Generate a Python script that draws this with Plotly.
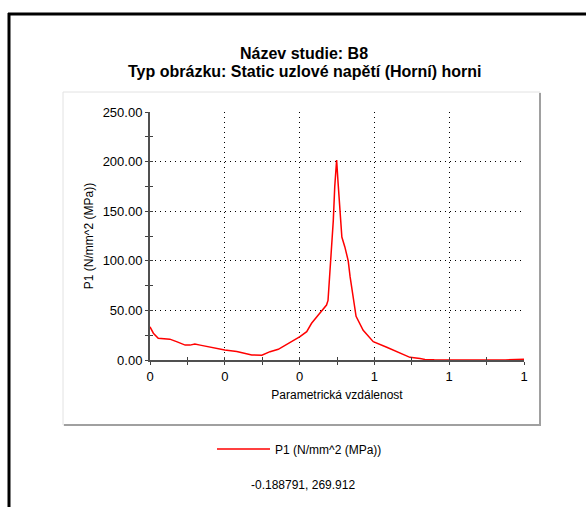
import plotly.graph_objects as go

# ---- data ----
dist = [0.000, 0.009, 0.022, 0.053, 0.071, 0.094, 0.107, 0.120, 0.134, 0.174,
        0.200, 0.232, 0.272, 0.299, 0.321, 0.343, 0.370, 0.401, 0.419, 0.432,
        0.450, 0.472, 0.476, 0.483, 0.490, 0.494, 0.499, 0.503, 0.508, 0.513,
        0.521, 0.530, 0.535, 0.544, 0.551, 0.570, 0.597, 0.633, 0.668, 0.695,
        0.722, 0.735, 0.760, 0.850, 0.950, 1.000]
p1 = [33.5, 27.0, 22.0, 21.0, 18.5, 15.0, 15.0, 16.0, 15.0, 12.0,
      10.0, 8.5, 5.0, 4.8, 8.4, 10.8, 16.8, 23.5, 28.6, 37.0,
      45.4, 55.4, 60.0, 100.0, 140.0, 175.0, 201.6, 178.0, 151.0, 124.0,
      114.0, 100.0, 84.0, 60.0, 44.0, 30.0, 18.5, 12.8, 6.7, 2.7,
      1.5, 0.6, 0.2, 0.1, 0.1, 0.8]

x_tickvals = [0, 0.2, 0.4, 0.6, 0.8, 1.0]
x_ticktext = ["0", "0", "0", "1", "1", "1"]
y_tickvals = [0, 50, 100, 150, 200, 250]
y_ticktext = ["0.00", "50.00", "100.00", "150.00", "200.00", "250.00"]

title_line1 = "Název studie: B8"
title_line2 = "Typ obrázku: Static uzlové napětí (Horní) horni"
x_title = "Parametrická vzdálenost"
y_title = "P1 (N/mm^2 (MPa))"
series_name = "P1 (N/mm^2 (MPa))"
cursor_text = "-0.188791, 269.912"

FONT = "Liberation Sans, Arial, sans-serif"
W, H = 586, 507
L, R, T, B = 150, 62, 112, 147
PW, PH = W - L - R, H - T - B


def px_x(v):
    return (v - L) / PW


def px_y(v):
    return (H - B - v) / PH


fig = go.Figure()
fig.add_trace(go.Scatter(x=dist, y=p1, mode="lines", name=series_name,
                         line=dict(color="#ff0000", width=1.5)))
# invisible trace on overlay axes (for crossing tick marks)
fig.add_trace(go.Scatter(x=dist, y=p1, mode="lines", xaxis="x2", yaxis="y2",
                         line=dict(color="rgba(0,0,0,0)", width=0),
                         showlegend=False, hoverinfo="skip"))

axis_common = dict(showline=True, linecolor="#505050", linewidth=2,
                   ticks="outside", ticklen=3, tickcolor="#404040", tickwidth=1,
                   showgrid=True, gridcolor="#000000", gridwidth=1, griddash="1px,4px",
                   zeroline=False, tickfont=dict(family=FONT, size=13, color="#000"))

fig.update_layout(
    width=W, height=H,
    margin=dict(l=L, r=R, t=T, b=B),
    paper_bgcolor="white", plot_bgcolor="white",
    showlegend=True,
    xaxis=dict(range=[0, 1], tickvals=x_tickvals, ticktext=x_ticktext,
               minor=dict(dtick=0.1, ticks="outside", ticklen=3, tickcolor="#404040", showgrid=False),
               title=dict(text=x_title, font=dict(family=FONT, size=12, color="#000"), standoff=8),
               **axis_common),
    yaxis=dict(range=[0, 250], tickvals=y_tickvals, ticktext=y_ticktext,
               minor=dict(dtick=25, ticks="outside", ticklen=3, tickcolor="#404040", showgrid=False),
               title=dict(text=y_title, font=dict(family=FONT, size=12, color="#000"), standoff=6),
               **axis_common),
    xaxis2=dict(range=[0, 1], overlaying="x", anchor="y2", side="bottom",
                tickvals=x_tickvals, showticklabels=False, ticks="inside", ticklen=3,
                tickcolor="#404040", showgrid=False, zeroline=False, showline=False,
                minor=dict(dtick=0.1, ticks="inside", ticklen=3, tickcolor="#404040")),
    yaxis2=dict(range=[0, 250], overlaying="y", anchor="x2", side="left",
                tickvals=y_tickvals, showticklabels=False, ticks="inside", ticklen=3,
                tickcolor="#404040", showgrid=False, zeroline=False, showline=False,
                minor=dict(dtick=25, ticks="inside", ticklen=3, tickcolor="#404040")),
    legend=dict(x=px_x(212), xanchor="left", y=px_y(449), yanchor="middle",
                orientation="h", bgcolor="rgba(0,0,0,0)", itemwidth=53,
                font=dict(family=FONT, size=12, color="#000")),
)

# title lines
fig.add_annotation(text="<b>" + title_line1 + "</b>", xref="paper", yref="paper",
                   x=px_x(304), y=px_y(53), xanchor="center", yanchor="middle",
                   showarrow=False, font=dict(family=FONT, size=16, color="#000"))
fig.add_annotation(text="<b>" + title_line2 + "</b>", xref="paper", yref="paper",
                   x=px_x(305), y=px_y(71), xanchor="center", yanchor="middle",
                   showarrow=False, font=dict(family=FONT, size=16, color="#000"))
fig.add_annotation(text=cursor_text, xref="paper", yref="paper",
                   x=px_x(303), y=px_y(485), xanchor="center", yanchor="middle",
                   showarrow=False, font=dict(family=FONT, size=12, color="#000"))

# panel around chart
fig.add_shape(type="rect", xref="paper", yref="paper", layer="below",
              x0=px_x(63), x1=px_x(540), y0=px_y(425), y1=px_y(92),
              line=dict(color="#e2e2e2", width=1), fillcolor="rgba(0,0,0,0)")
fig.add_shape(type="line", xref="paper", yref="paper",
              x0=px_x(540), x1=px_x(540), y0=px_y(93), y1=px_y(426),
              line=dict(color="#a0a0a0", width=2))
fig.add_shape(type="line", xref="paper", yref="paper",
              x0=px_x(64), x1=px_x(541), y0=px_y(425), y1=px_y(425),
              line=dict(color="#a0a0a0", width=2))
# outer black frame (left and top edges)
fig.add_shape(type="line", xref="paper", yref="paper",
              x0=px_x(9), x1=px_x(9), y0=px_y(13), y1=px_y(520),
              line=dict(color="#000", width=3))
fig.add_shape(type="line", xref="paper", yref="paper",
              x0=px_x(8), x1=px_x(600), y0=px_y(14), y1=px_y(14),
              line=dict(color="#000", width=3))

fig.write_html("out.html")
